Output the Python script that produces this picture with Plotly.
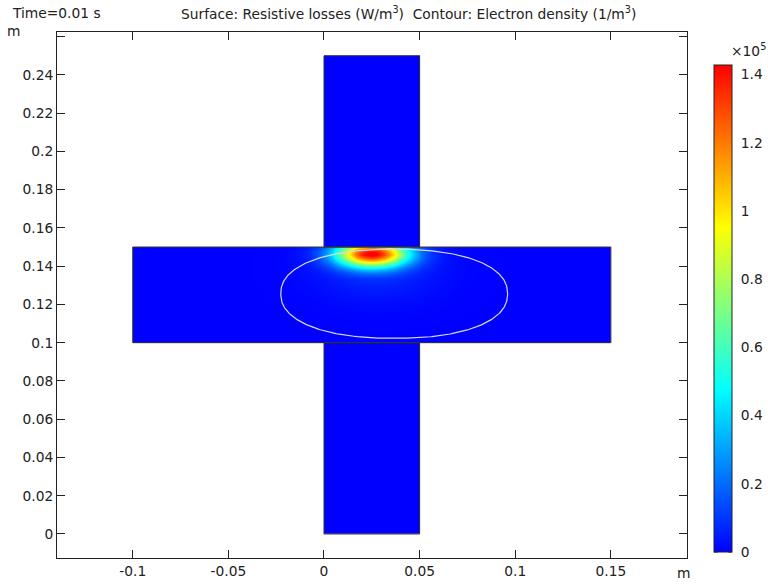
import numpy as np
import plotly.graph_objects as go

# ---------------- data ----------------
# geometry rectangles (m): top arm, horizontal bar (plasma), bottom arm
rect_x0 = [0.0, -0.10, 0.0]
rect_x1 = [0.05, 0.15, 0.05]
rect_y0 = [0.15, 0.10, 0.0]
rect_y1 = [0.25, 0.15, 0.10]
plasma_index = 1

# resistive-loss hotspot (W/m^3)
peak_value = 1.40e5
peak_x = 0.0252
peak_y = 0.1462
peak_sx = 0.013
peak_sy = 0.0047
tail_value = 0.08e5
tail_x = 0.028
tail_y = 0.138
tail_sx = 0.022
tail_sy = 0.011
color_max = 1.428e5

# electron-density contour (closed curve)
contour_xc = 0.0367
contour_yc = 0.1256
contour_a = 0.0593
contour_b = 0.0233
contour_n = 2.25

x_ticks = [-0.1, -0.05, 0, 0.05, 0.1, 0.15]
x_ticktext = ["-0.1", "-0.05", "0", "0.05", "0.1", "0.15"]
y_ticks = [0, 0.02, 0.04, 0.06, 0.08, 0.1, 0.12, 0.14, 0.16, 0.18, 0.2, 0.22, 0.24, 0.26]
y_ticktext = ["0", "0.02", "0.04", "0.06", "0.08", "0.1", "0.12", "0.14", "0.16",
              "0.18", "0.2", "0.22", "0.24", ""]
cb_ticks = [0, 0.2, 0.4, 0.6, 0.8, 1.0, 1.2, 1.4]
cb_ticktext = ["0", "0.2", "0.4", "0.6", "0.8", "1", "1.2", "1.4"]

x_range = [-0.1396, 0.1898]
y_range = [-0.01255, 0.2624]

# ---------------- field on grid ----------------
step = 0.0005
xs = np.arange(min(rect_x0) + step / 2, max(rect_x1), step)
ys = np.arange(min(rect_y0) + step / 2, max(rect_y1), step)
X, Y = np.meshgrid(xs, ys)
inside = np.zeros_like(X, dtype=bool)
for x0, x1, y0, y1 in zip(rect_x0, rect_x1, rect_y0, rect_y1):
    inside |= (X >= x0) & (X <= x1) & (Y >= y0) & (Y <= y1)
plasma = ((X >= rect_x0[plasma_index]) & (X <= rect_x1[plasma_index]) &
          (Y >= rect_y0[plasma_index]) & (Y <= rect_y1[plasma_index]))
Z = (peak_value * np.exp(-0.5 * ((X - peak_x) / peak_sx) ** 2 - 0.5 * ((Y - peak_y) / peak_sy) ** 2)
     + tail_value * np.exp(-0.5 * ((X - tail_x) / tail_sx) ** 2 - 0.5 * ((Y - tail_y) / tail_sy) ** 2))
Z = np.where(plasma, Z, 0.0)
Z = np.round(Z, 0)
Z = np.where(inside, Z, np.nan)

colorscale = [[0, "rgb(0,0,255)"], [1 / 3, "rgb(0,255,255)"],
              [2 / 3, "rgb(255,255,0)"], [1, "rgb(255,0,0)"]]

W, H = 768, 584
L, R, T, B = 57, 81, 32, 26
pw, ph = W - L - R, H - T - B
FS = 13.8
font = dict(family="DejaVu Sans", size=FS, color="#222")

# colorbar placement (pixels)
cb_left, cb_thick, cb_bottom, cb_len = 714, 18, 552, 487

fig = go.Figure()
fig.add_trace(go.Heatmap(
    x=xs, y=ys, z=Z, zmin=0, zmax=color_max, zsmooth=False,
    colorscale=colorscale, hoverongaps=False,
    colorbar=dict(
        x=(cb_left - L) / pw, xanchor="left", xpad=0, ypad=0,
        y=(H - B - cb_bottom) / ph, yanchor="bottom",
        lenmode="pixels", len=cb_len, thickness=cb_thick,
        outlinecolor="#222", outlinewidth=1,
        tickvals=[v * 1e5 for v in cb_ticks], ticktext=cb_ticktext,
        ticks="outside", ticklen=6, tickcolor="rgba(0,0,0,0)",
        tickfont=font,
    ),
))

# inside tick marks on both sides of the colour bar
for v in cb_ticks:
    py = cb_bottom - (v * 1e5) / color_max * cb_len
    yp = (H - B - py) / ph
    for xa, xb in [(cb_left, cb_left + 4), (cb_left + cb_thick - 4, cb_left + cb_thick)]:
        fig.add_shape(type="line", xref="paper", yref="paper",
                      x0=(xa - L) / pw, x1=(xb - L) / pw, y0=yp, y1=yp,
                      line=dict(color="#222", width=1))

# domain outlines
for x0, x1, y0, y1 in zip(rect_x0, rect_x1, rect_y0, rect_y1):
    fig.add_trace(go.Scatter(x=[x0, x1, x1, x0, x0], y=[y0, y0, y1, y1, y0],
                             mode="lines", line=dict(color="#333", width=1),
                             hoverinfo="skip", showlegend=False))

# contour curve
t = np.linspace(0, 2 * np.pi, 400)
ct, st = np.cos(t), np.sin(t)
cx = contour_xc + contour_a * np.sign(ct) * np.abs(ct) ** (2 / contour_n)
cy = contour_yc + contour_b * np.sign(st) * np.abs(st) ** (2 / contour_n)
fig.add_trace(go.Scatter(x=cx, y=cy, mode="lines",
                         line=dict(color="rgb(215,215,235)", width=1.2),
                         hoverinfo="skip", showlegend=False))

axis_common = dict(showline=True, linecolor="#222", linewidth=1, mirror="ticks",
                   ticks="inside", ticklen=8, tickcolor="#222", showgrid=False,
                   zeroline=False, tickfont=font)
fig.update_xaxes(range=x_range, tickvals=x_ticks, ticktext=x_ticktext, **axis_common)
fig.update_yaxes(range=y_range, tickvals=y_ticks, ticktext=y_ticktext, **axis_common)

annotations = [
    dict(text="Time=0.01 s", x=10, y=13, xanchor="left"),
    dict(text="Surface: Resistive losses (W/m<sup>3</sup>)  Contour: Electron density (1/m<sup>3</sup>)",
         x=408, y=13, xanchor="center"),
    dict(text="m", x=13, y=31, xanchor="center"),
    dict(text="m", x=683, y=573, xanchor="center"),
    dict(text="×10<sup>5</sup>", x=748, y=50, xanchor="center"),
]
for a in annotations:
    fig.add_annotation(text=a["text"], x=(a["x"] - L) / pw, y=(H - B - a["y"]) / ph,
                       xref="paper", yref="paper", showarrow=False,
                       xanchor=a["xanchor"], yanchor="middle", font=font)

fig.update_layout(width=W, height=H,
                  margin=dict(l=L, r=R, t=T, b=B, autoexpand=False),
                  paper_bgcolor="white", plot_bgcolor="white", showlegend=False)
fig.write_html("out.html")
